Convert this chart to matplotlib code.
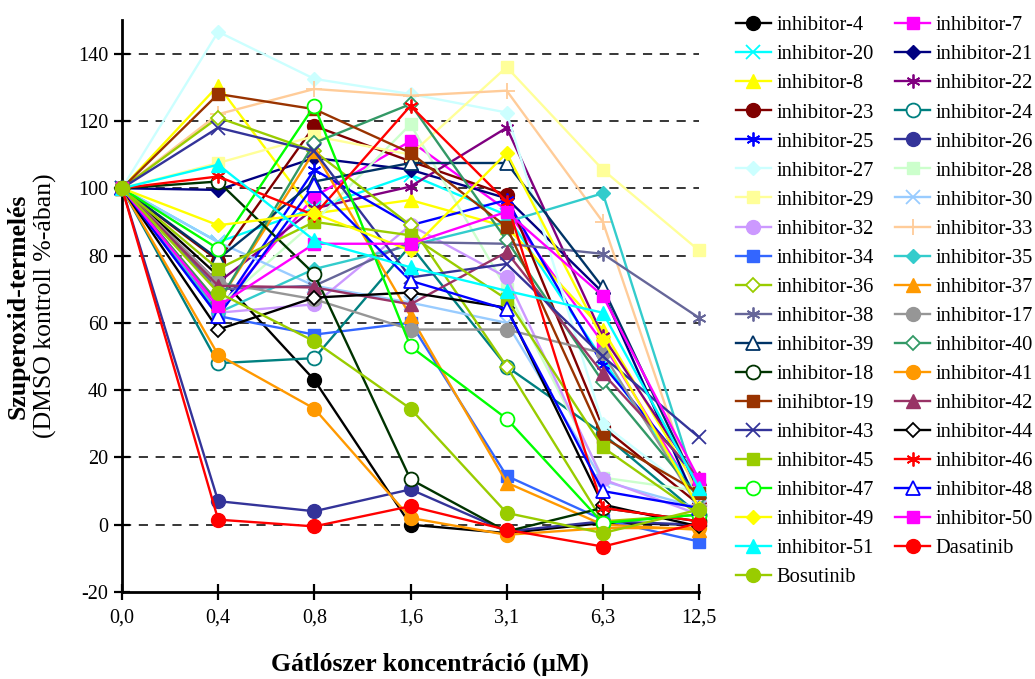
import matplotlib
matplotlib.use("Agg")
import matplotlib.pyplot as plt

plt.rcParams['font.family'] = ['Liberation Serif', 'DejaVu Serif']
plt.rcParams['font.size'] = 14.5
plt.rcParams['axes.unicode_minus'] = False

# Concentration steps (µM)
conc_labels = ['0,0', '0,4', '0,8', '1,6', '3,1', '6,3', '12,5']

# Superoxide production, % of DMSO control
inh_4 = [100, 74, 43, 0, -2.5, 0.5, 0]
inh_7 = [100, 64, 97.5, 114, 93.5, 54, 7]
inh_20 = [100, 84, 94, 104, 92, 49, 8]
inh_21 = [100, 99.5, 109, 105.5, 97, 69, 5]
inh_8 = [100, 130.5, 92.5, 96.5, 88.5, 58, 10]
inh_22 = [100, 72, 94, 100.5, 118, 56, 13]
inh_23 = [100, 78.5, 118.5, 108, 98, 29, 6]
inh_24 = [100, 48, 49.5, 83, 47, 27, 3]
inh_25 = [100, 63, 105.5, 89, 96.5, 47.5, 13]
inh_26 = [100, 7, 4, 10.5, -2, 1, 0]
inh_27 = [100, 146.5, 132.5, 128, 122.5, 30, 8]
inh_28 = [100, 65, 90, 119, 70, 14, 10]
inh_29 = [100, 107.5, 115.5, 110, 136, 105.5, 81.5]
inh_30 = [100, 84, 71, 66, 60, 13, 5]
inh_32 = [100, 63, 65.5, 89, 73.5, 13.5, 3]
inh_33 = [100, 122, 129.5, 127.5, 129, 90, 6]
inh_34 = [100, 62, 56.5, 60, 14.5, 1.5, -5]
inh_35 = [100, 63, 76, 83, 90, 98.5, 9]
inh_36 = [100, 121, 111, 89, 47, 1, 3]
inh_37 = [100, 66, 111, 62, 12.5, 0, -1.5]
inh_38 = [100, 70, 71, 84, 83.5, 80.5, 61.5]
inh_17 = [100, 72, 67, 58, 58, 51, 5]
inh_39 = [100, 79, 102, 107.5, 107.5, 70.5, 10]
inh_40 = [100, 66, 113.5, 125, 84.5, 42.5, 8]
inh_18 = [100, 102, 74.5, 13.5, -2, 5, 1]
inh_41 = [100, 50.5, 34.5, 2, -3, -1, -1]
inh_19 = [100, 128, 123.5, 110.5, 88.5, 26, 9.5]
inh_42 = [100, 71, 70.5, 65.5, 81, 45, 14]
inh_43 = [100, 118, 111, 73.5, 77.5, 50, 26]
inh_44 = [100, 58, 67.5, 69, 64.5, 6, -0.5]
inh_45 = [100, 76, 90, 86, 67, 23, 3]
inh_46 = [100, 103.5, 92, 124.5, 96, 5, 1]
inh_47 = [100, 82, 124.5, 53, 31.5, 0.5, 3]
inh_48 = [100, 62, 101, 72.5, 64, 10, 5]
inh_49 = [100, 89, 92.5, 81.5, 110.5, 55, 5]
inh_50 = [100, 65, 83.5, 83.5, 93, 68, 13.5]
inh_51 = [100, 107, 84.5, 76.5, 69.5, 63, 11]
dasatinib = [100, 1.5, -0.5, 5.5, -1.5, -6.5, 0.5]
bosutinib = [100, 69, 54.5, 34.5, 3.5, -2.5, 4.5]

ASTER = (6, 2, 0)

# (label, values, colour, marker, open marker?)
series = [
    ('inhibitor-4', inh_4, '#000000', 'o', False),
    ('inhibitor-7', inh_7, '#FF00FF', 's', False),
    ('inhibitor-20', inh_20, '#00FFFF', 'x', False),
    ('inhibitor-21', inh_21, '#000080', 'D', False),
    ('inhibitor-8', inh_8, '#FFFF00', '^', False),
    ('inhibitor-22', inh_22, '#800080', ASTER, False),
    ('inhibitor-23', inh_23, '#800000', 'o', False),
    ('inhibitor-24', inh_24, '#008080', 'o', True),
    ('inhibitor-25', inh_25, '#0000FF', ASTER, False),
    ('inhibitor-26', inh_26, '#333399', 'o', False),
    ('inhibitor-27', inh_27, '#CCFFFF', 'D', False),
    ('inhibitor-28', inh_28, '#CCFFCC', 's', False),
    ('inhibitor-29', inh_29, '#FFFF99', 's', False),
    ('inhibitor-30', inh_30, '#99CCFF', 'x', False),
    ('inhibitor-32', inh_32, '#CC99FF', 'o', False),
    ('inhibitor-33', inh_33, '#FFCC99', '+', False),
    ('inhibitor-34', inh_34, '#3366FF', 's', False),
    ('inhibitor-35', inh_35, '#33CCCC', 'D', False),
    ('inhibitor-36', inh_36, '#99CC00', 'D', True),
    ('inhibitor-37', inh_37, '#FF9900', '^', False),
    ('inhibitor-38', inh_38, '#666699', ASTER, False),
    ('inhibitor-17', inh_17, '#969696', 'o', False),
    ('inhibitor-39', inh_39, '#003366', '^', True),
    ('inhibitor-40', inh_40, '#339966', 'D', True),
    ('inhibitor-18', inh_18, '#003300', 'o', True),
    ('inhibitor-41', inh_41, '#FF9900', 'o', False),
    ('inihibtor-19', inh_19, '#993300', 's', False),
    ('inhibitor-42', inh_42, '#993366', '^', False),
    ('inhibitor-43', inh_43, '#333399', 'x', False),
    ('inhibitor-44', inh_44, '#000000', 'D', True),
    ('inhibitor-45', inh_45, '#99CC00', 's', False),
    ('inhibitor-46', inh_46, '#FF0000', ASTER, False),
    ('inhibitor-47', inh_47, '#00FF00', 'o', True),
    ('inhibitor-48', inh_48, '#0000FF', '^', True),
    ('inhibitor-49', inh_49, '#FFFF00', 'D', False),
    ('inhibitor-50', inh_50, '#FF00FF', 's', False),
    ('inhibitor-51', inh_51, '#00FFFF', '^', False),
    ('Dasatinib', dasatinib, '#FF0000', 'o', False),
    ('Bosutinib', bosutinib, '#99CC00', 'o', False),
]

marker_sizes = {'o': 10, 's': 9, '^': 10, 'D': 7.5, 'x': 10, '+': 11}

fig = plt.figure(figsize=(10.35, 6.79), dpi=100)
ax = fig.add_axes([122 / 1035, 1 - 592 / 679, 577 / 1035, 572 / 679])

xs = list(range(len(conc_labels)))
handles = []
for label, vals, col, mk, hollow in series:
    ms = marker_sizes.get(mk, 10) if isinstance(mk, str) else 10
    line, = ax.plot(xs, vals, color=col, lw=1.7, marker=mk, markersize=ms,
                    markerfacecolor='white' if hollow else col,
                    markeredgecolor=col,
                    markeredgewidth=1.3 if (hollow or mk in ('x', '+') or not isinstance(mk, str)) else 1.0,
                    label=label, zorder=3, clip_on=False)
    handles.append(line)

ax.set_xlim(0, 6)
ax.set_ylim(-20, 150)
ax.set_xticks(xs)
ax.set_xticklabels(conc_labels)
ax.set_yticks(range(-20, 141, 20))

for v in range(0, 141, 20):
    ax.axhline(v, color='black', lw=1.1, ls=(0, (6, 5)), zorder=1)

for s in ('top', 'right'):
    ax.spines[s].set_visible(False)
for s in ('left', 'bottom'):
    ax.spines[s].set_linewidth(2)
ax.tick_params(direction='inout', length=12, width=1.6, labelsize=14.5)
ax.tick_params(axis='x', pad=6)
ax.tick_params(axis='y', pad=4)

fig.text(18 / 1035, 1 - 306 / 679, 'Szuperoxid-termelés', rotation=90,
         ha='center', va='center', fontsize=18.5, fontweight='bold')
fig.text(45 / 1035, 1 - 306 / 679, '(DMSO kontroll %-ában)', rotation=90,
         ha='center', va='center', fontsize=18.5)
fig.text(430 / 1035, 1 - 664 / 679, 'Gátlószer koncentráció (µM)',
         ha='center', va='center', fontsize=18.5, fontweight='bold')

# two legend columns, filled row by row
col1 = handles[0::2]
col2 = handles[1::2]
ordered = col1 + col2
fig.legend(ordered, [h.get_label() for h in ordered], ncol=2,
           loc='upper left', bbox_to_anchor=(736 / 1035, 1 - 16 / 679),
           frameon=False, fontsize=14.8, handlelength=1.7, handletextpad=0.25,
           labelspacing=0.47, columnspacing=1.05, borderpad=0, borderaxespad=0)

fig.savefig('out.png', dpi=100)
